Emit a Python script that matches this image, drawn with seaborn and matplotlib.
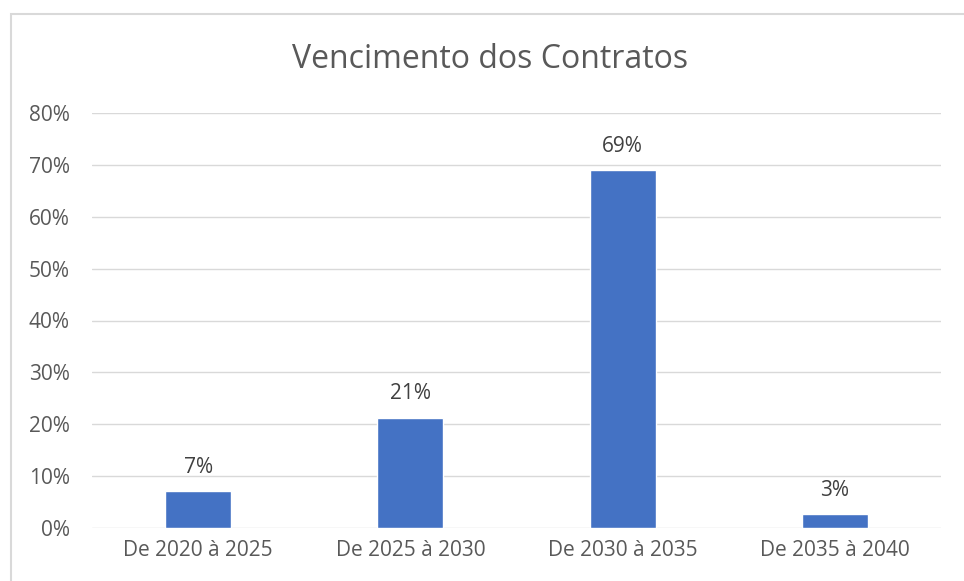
import matplotlib
matplotlib.use('Agg')
from matplotlib import pyplot as plt
from matplotlib.patches import Rectangle
from matplotlib.ticker import PercentFormatter
import seaborn as sns
import pandas as pd

categories = ['De 2020 à 2025', 'De 2025 à 2030', 'De 2030 à 2035', 'De 2035 à 2040']
values = [7.1, 21.3, 69.0, 2.7]
labels = ['7%', '21%', '69%', '3%']

sns.set_style('white')
plt.rcParams['font.family'] = ['Open Sans', 'DejaVu Sans']

data = pd.DataFrame({'periodo': categories, 'valor': values})

fig = plt.figure(figsize=(9.64, 5.81), dpi=100)
ax = fig.add_axes([92 / 964, 1 - 528 / 581, 849 / 964, 415 / 581])

sns.barplot(data=data, x='periodo', y='valor', color='#4472c4', width=0.31,
            saturation=1, ax=ax, zorder=3)

for i, (v, t) in enumerate(zip(values, labels)):
    ax.text(i, v + 4.6, t, ha='center', va='center', fontsize=15, color='#404040')

ax.set_ylim(0, 80)
ax.set_xlim(-0.5, 3.5)
ax.set_yticks(range(0, 81, 10))
ax.yaxis.set_major_formatter(PercentFormatter(decimals=0))
ax.grid(axis='y', color='#d9d9d9', linewidth=1, zorder=0)
for s in ax.spines.values():
    s.set_visible(False)
ax.tick_params(axis='both', length=0, labelsize=15, colors='#595959')
ax.tick_params(axis='x', pad=9)
ax.tick_params(axis='y', pad=16)
ax.set_xlabel('')
ax.set_ylabel('')

fig.text(490 / 964, 1 - 59 / 581, 'Vencimento dos Contratos', ha='center', va='center',
         fontsize=23, color='#595959')

fig.patches.append(Rectangle((11 / 964, -0.1), 1.2, 1.1 - 14 / 581, transform=fig.transFigure,
                             fill=False, edgecolor='#d9d9d9', linewidth=1.5))

fig.savefig('out.png', dpi=100)
